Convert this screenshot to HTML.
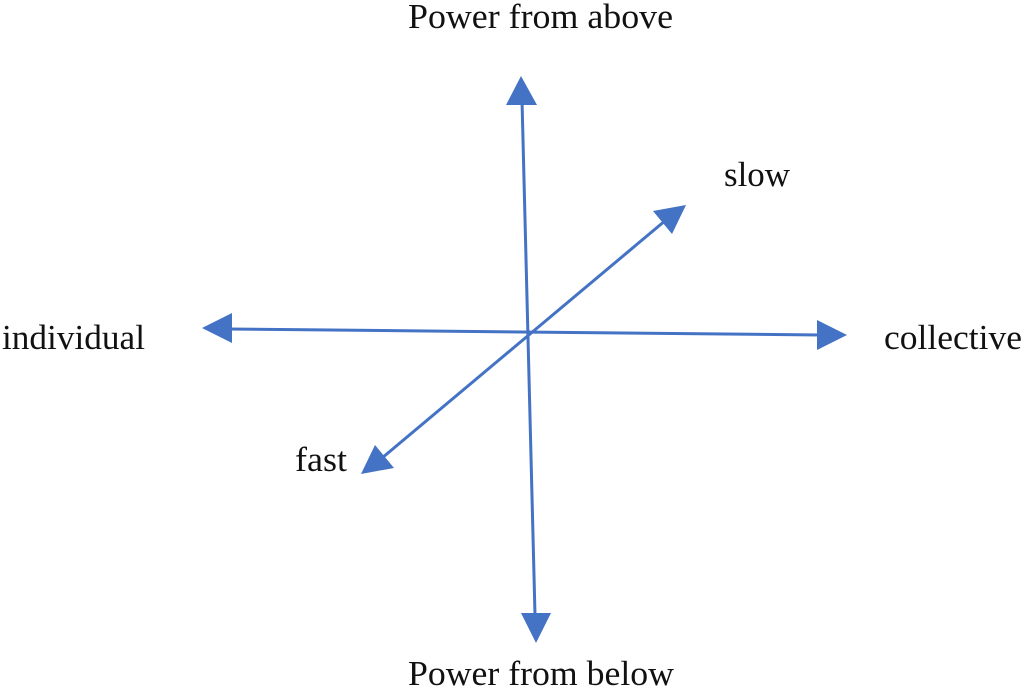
<!DOCTYPE html>
<html><head><style>
html,body{margin:0;padding:0;background:#fff;width:1024px;height:695px;overflow:hidden}
svg text{font-family:"Liberation Serif",serif;font-size:35px;fill:#111}
</style></head><body>
<svg width="1024" height="695" viewBox="0 0 1024 695">
<g stroke="#4472C4" stroke-width="3" fill="none">
<line x1="522" y1="100" x2="535" y2="615"/>
<line x1="228" y1="329" x2="820" y2="335"/>
<line x1="382" y1="458" x2="666" y2="220"/>
</g>
<g fill="#4472C4">
<polygon points="521,76 506,105 537,105"/>
<polygon points="536,643 521,613 551,613"/>
<polygon points="202,328 232,313 232,343"/>
<polygon points="847,335 817,320 817,350"/>
<polygon points="686,205 672,234 653,211"/>
<polygon points="361,474 375,445 394,468"/>
</g>
<text x="408" y="28" textLength="265" lengthAdjust="spacingAndGlyphs">Power from above</text>
<text x="408" y="685" textLength="266" lengthAdjust="spacingAndGlyphs">Power from below</text>
<text x="2" y="349" textLength="143" lengthAdjust="spacingAndGlyphs">individual</text>
<text x="884" y="349" textLength="138" lengthAdjust="spacingAndGlyphs">collective</text>
<text x="724" y="186" textLength="66" lengthAdjust="spacingAndGlyphs">slow</text>
<text x="295" y="471" textLength="52" lengthAdjust="spacingAndGlyphs">fast</text>
</svg>
</body></html>
